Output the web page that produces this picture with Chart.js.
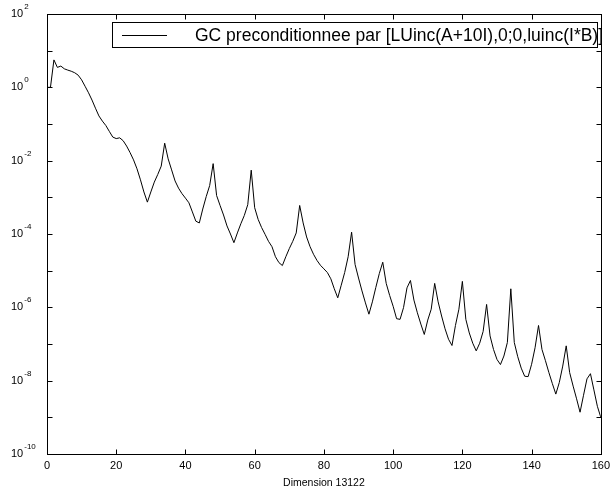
<!DOCTYPE html>
<html>
<head>
<meta charset="utf-8">
<script src="https://cdn.jsdelivr.net/npm/chart.js@4.4.1/dist/chart.umd.min.js"></script>
<style>
  html, body { margin: 0; padding: 0; background: #fff; }
  #chart { display: block; }
</style>
</head>
<body>
<canvas id="chart" width="615" height="493"></canvas>
<script>
// residual norm per iteration (iteration = index in the array)
var residuals = [
    1.0, 1.0, 5.6, 3.5, 3.8, 3.2, 2.95, 2.75, 2.5, 2.15,
    1.6, 1.07, 0.71, 0.45, 0.27, 0.166, 0.12, 0.091, 0.063, 0.044,
    0.040, 0.042, 0.035, 0.025, 0.0166, 0.0105, 6.0e-3, 3.0e-3, 1.4e-3, 7.4e-4,
    1.4e-3, 2.6e-3, 4.2e-3, 7.1e-3, 3.0e-2, 1.12e-2, 5.6e-3, 2.8e-3, 1.78e-3, 1.26e-3,
    9.5e-4, 7.1e-4, 4.0e-4, 2.24e-4, 2.0e-4, 4.8e-4, 1.05e-3, 2.1e-3, 8.3e-3, 1.12e-3,
    6.0e-4, 3.3e-4, 1.66e-4, 1.0e-4, 5.8e-5, 1.07e-4, 1.9e-4, 3.2e-4, 6.3e-4, 5.5e-3,
    5.2e-4, 2.5e-4, 1.5e-4, 9.8e-5, 6.3e-5, 4.5e-5, 2.4e-5, 1.66e-5, 1.38e-5, 2.4e-5,
    4.0e-5, 6.3e-5, 1.07e-4, 6.0e-4, 2.0e-4, 8.3e-5, 4.5e-5, 2.8e-5, 1.9e-5, 1.4e-5,
    1.12e-5, 8.9e-6, 6.0e-6, 3.2e-6, 1.82e-6, 4.0e-6, 8.9e-6, 2.4e-5, 1.12e-4, 1.48e-5,
    6.3e-6, 2.8e-6, 1.32e-6, 6.5e-7, 1.41e-6, 3.5e-6, 8.3e-6, 1.7e-5, 4.5e-6, 2.1e-6,
    1.07e-6, 4.9e-7, 4.7e-7, 9.8e-7, 3.4e-6, 5.4e-6, 1.58e-6, 7.1e-7, 3.5e-7, 1.82e-7,
    4.5e-7, 8.9e-7, 4.5e-6, 1.41e-6, 5.8e-7, 2.6e-7, 1.35e-7, 9.1e-8, 3.2e-7, 8.9e-7,
    5.1e-6, 4.7e-7, 2.0e-7, 1.05e-7, 6.5e-8, 1.05e-7, 2.2e-7, 1.2e-6, 1.66e-7, 7.1e-8,
    3.8e-8, 2.75e-8, 4.7e-8, 1.1e-7, 3.2e-6, 1.1e-7, 4.5e-8, 2.2e-8, 1.32e-8, 1.29e-8,
    2.8e-8, 7.9e-8, 3.2e-7, 7.1e-8, 3.5e-8, 1.66e-8, 8.3e-9, 4.3e-9, 8.9e-9, 2.5e-8,
    8.9e-8, 1.66e-8, 7.1e-9, 3.2e-9, 1.38e-9, 4.0e-9, 1.12e-8, 1.55e-8, 5.6e-9, 2.0e-9,
    1.0e-9
];
var xTicks = [0, 20, 40, 60, 80, 100, 120, 140, 160];
var yTickExps = [2, 1, 0, -1, -2, -3, -4, -5, -6, -7, -8, -9, -10];
var yLabelExps = [2, 0, -2, -4, -6, -8, -10];
var seriesLabel = 'GC preconditionnee par [LUinc(A+10I),0;0,luinc(I*B)]';
var xTitle = 'Dimension 13122';

var FONT = '"Liberation Sans", Arial, Helvetica, sans-serif';

// box, inward ticks, y labels with exponents, legend
var matlabAxes = {
    id: 'matlabAxes',
    afterDraw: function (chart) {
        var ctx = chart.ctx;
        var a = chart.chartArea;
        var x = chart.scales.x, y = chart.scales.y;
        var L = Math.round(a.left) + 0.5, R = Math.round(a.right) + 0.5;
        var T = Math.round(a.top) + 0.5, B = Math.round(a.bottom) + 0.5;
        ctx.save();
        ctx.strokeStyle = '#000';
        ctx.lineWidth = 1;
        ctx.strokeRect(L, T, R - L, B - T);

        ctx.beginPath();
        xTicks.forEach(function (v) {
            var px = Math.round(x.getPixelForValue(v)) + 0.5;
            ctx.moveTo(px, B); ctx.lineTo(px, B - 5);
            ctx.moveTo(px, T); ctx.lineTo(px, T + 5);
        });
        yTickExps.forEach(function (e) {
            var py = Math.round(y.getPixelForValue(Math.pow(10, e))) + 0.5;
            ctx.moveTo(L, py); ctx.lineTo(L + 5, py);
            ctx.moveTo(R, py); ctx.lineTo(R - 5, py);
        });
        ctx.stroke();

        // y tick labels: 10 with superscript exponent
        ctx.fillStyle = '#000';
        ctx.textAlign = 'left';
        ctx.textBaseline = 'alphabetic';
        yLabelExps.forEach(function (e) {
            var py = y.getPixelForValue(Math.pow(10, e));
            ctx.font = '11px ' + FONT;
            var bw = ctx.measureText('10').width;
            ctx.fillText('10', 11, py + 3);
            ctx.font = '8px ' + FONT;
            ctx.fillText(String(e), 11 + bw + 1, py - 5);
        });

        // legend
        ctx.fillStyle = '#fff';
        ctx.fillRect(112.5, 22.5, 485, 25);
        ctx.strokeRect(112.5, 22.5, 485, 25);
        ctx.beginPath();
        ctx.moveTo(122, 35.5); ctx.lineTo(167, 35.5);
        ctx.stroke();
        ctx.fillStyle = '#000';
        ctx.textAlign = 'left';
        ctx.font = '17.5px ' + FONT;
        ctx.fillText(chart.data.datasets[0].label, 195, 41);
        ctx.restore();
    }
};

var ctx = document.getElementById('chart').getContext('2d');
new Chart(ctx, {
    type: 'line',
    data: {
        datasets: [{
            label: seriesLabel,
            data: residuals.map(function (v, i) { return { x: i, y: v }; }),
            borderColor: '#000',
            borderWidth: 1,
            pointRadius: 0,
            tension: 0,
            fill: false
        }]
    },
    options: {
        responsive: false,
        animation: false,
        devicePixelRatio: 1,
        layout: { padding: { top: 14, right: 12, left: 0, bottom: 0 } },
        plugins: { legend: { display: false }, tooltip: { enabled: false } },
        scales: {
            x: {
                type: 'linear',
                min: 0,
                max: 160,
                grid: { display: false, drawTicks: false, tickLength: 0 },
                border: { display: false },
                afterBuildTicks: function (s) { s.ticks = xTicks.map(function (v) { return { value: v }; }); },
                afterFit: function (s) { s.height = 39; },
                ticks: {
                    color: '#000',
                    padding: 5,
                    maxRotation: 0,
                    font: { family: FONT, size: 11 }
                },
                title: {
                    display: true,
                    text: xTitle,
                    color: '#000',
                    font: { family: FONT, size: 10.5 },
                    padding: { top: 0, bottom: 4 }
                }
            },
            y: {
                type: 'logarithmic',
                min: 1e-10,
                max: 1e2,
                grid: { display: false, drawTicks: false },
                border: { display: false },
                ticks: { display: false },
                afterFit: function (s) { s.width = 47; }
            }
        }
    },
    plugins: [matlabAxes]
});
</script>
</body>
</html>
